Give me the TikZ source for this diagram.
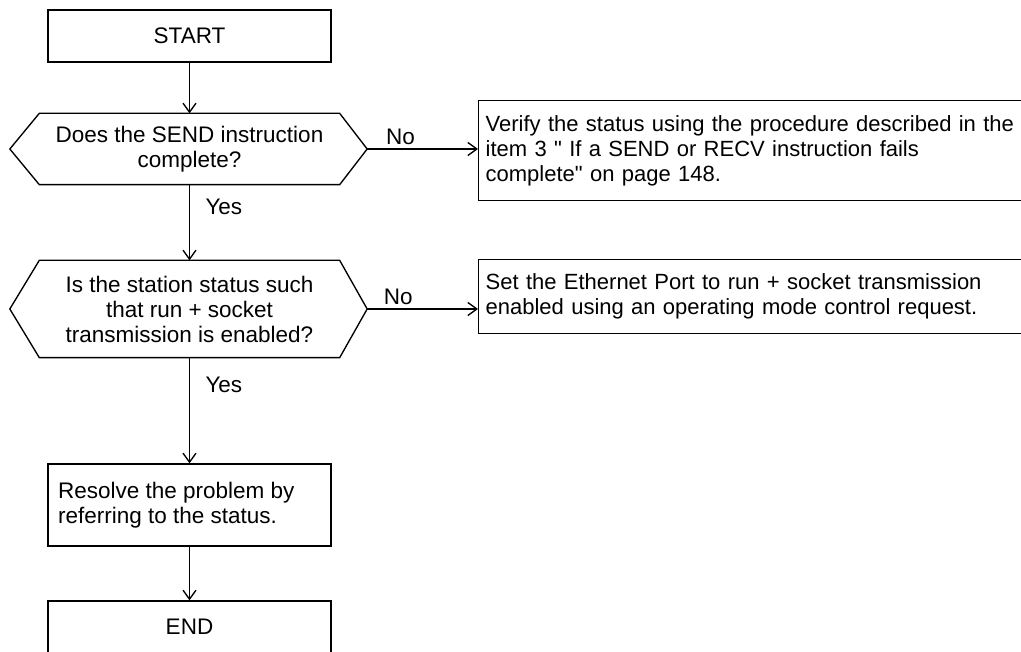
\documentclass[tikz,border=0pt]{standalone}
\usepackage{fontspec}
\setmainfont{Liberation Sans}
\usepackage{tikz}
\usetikzlibrary{arrows.meta,positioning}

\tikzset{
  stepbox/.style={draw, rectangle, minimum width=283, minimum height=52, align=center},
  notebox/.style={draw, rectangle, anchor=north west, text width=590, inner xsep=7pt, align=left,
    font=\fontsize{22}{25}\selectfont},
  query/.style={rectangle, minimum width=299, inner sep=2pt, align=center},
}
% hexagon outline round a query node
\newcommand{\hexout}[1]{%
  \draw (#1.north west) -- (#1.north east) -- ([xshift=27.5pt]#1.east)
    -- (#1.south east) -- (#1.south west) -- ([xshift=-29.5pt]#1.west) -- cycle;}

\begin{document}
\begin{tikzpicture}[>={Straight Barb[length=9pt,width=13pt]}, x=1pt, y=-1pt, line width=1.35pt,
    font=\fontsize{22.5}{25}\selectfont]
  \path[use as bounding box] (0,0) rectangle (1021,652);
  \clip (0,0) rectangle (1021,652);
  % main column
  \node[stepbox] (start) at (189.5,36) {START};
  \node[query, minimum height=70] (q1) at (189.5,149)
    {Does the SEND instruction\\complete?};
  \node[query, minimum height=96] (q2) at (189.5,309)
    {Is the station status such\\that run + socket\\transmission is enabled?};
  \hexout{q1}
  \hexout{q2}
  \node[stepbox, minimum height=82, align=left] (fix) at (189.5,505)
    {Resolve the problem by\\referring to the status.\hspace*{44pt}};
  \node[stepbox] (end) at (189.5,627) {END};
  % side boxes
  \node[notebox, minimum height=100] (chk) at (478,100)
    {Verify the status using the procedure described in the\\item 3 \textquotedbl{} If a SEND or RECV instruction fails\\complete\textquotedbl{} on page 148.};
  \node[notebox, minimum height=74] (mode) at (478,259)
    {Set the Ethernet Port to run + socket transmission\\enabled using an operating mode control request.};
  % flow
  \draw[->] (start.south) -- (q1.north);
  \draw[->] (q1.south) -- node[right=12pt, pos=0.29]{Yes} (q2.north);
  \draw[->] (q2.south) -- node[right=12pt, pos=0.26]{Yes} (fix.north);
  \draw[->] (fix.south) -- (end.north);
  \draw[->] ([xshift=27.5pt]q1.east) -- node[above, pos=0.3]{No} (q1.east -| chk.west);
  \draw[->] ([xshift=27.5pt]q2.east) -- node[above, pos=0.28]{No} (q2.east -| mode.west);
\end{tikzpicture}
\end{document}
